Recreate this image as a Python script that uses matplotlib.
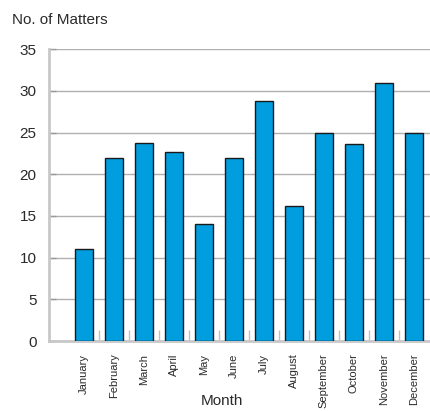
import matplotlib
matplotlib.use('Agg')
import matplotlib.pyplot as plt
import numpy as np

months = ['January', 'February', 'March', 'April', 'May', 'June', 'July',
          'August', 'September', 'October', 'November', 'December']
matters = [11.0, 21.9, 23.7, 22.7, 14.0, 21.9, 28.8, 16.2, 25.0, 23.6, 30.9, 25.0]
y_ticks = [0, 5, 10, 15, 20, 25, 30, 35]

plt.rcParams['font.family'] = ['Liberation Sans', 'DejaVu Sans']
text_color = '#2a2a2a'

fig = plt.figure(figsize=(4.31, 4.11), dpi=100)
ax = fig.add_axes([0.1137, 0.1703, 0.8863, 0.7097])

x = np.arange(len(months))
ax.bar(x, matters, width=0.6, color='#009ddf', edgecolor='#1a1a1a',
       linewidth=1.0, zorder=3)

ax.set_xlim(-1.17, 11.57)
ax.set_ylim(0, 35)
ax.set_yticks(y_ticks)
ax.set_yticklabels([str(t) for t in y_ticks], fontsize=11, color=text_color)
ax.tick_params(axis='y', direction='in', length=5, width=1, color='#999999', pad=9)

ax.set_xticks(x)
ax.set_xticklabels(months, rotation=90, fontsize=8, color=text_color)
ax.tick_params(axis='x', which='major', length=0, pad=9)
ax.set_xticks(x[:-1] + 0.5, minor=True)
ax.tick_params(axis='x', which='minor', direction='in', length=8, width=1, color='#c0c0c0')

ax.grid(axis='y', color='#b0b0b0', linewidth=1.0, zorder=0)
for side in ['top', 'right']:
    ax.spines[side].set_visible(False)
for side in ['left', 'bottom']:
    ax.spines[side].set_color('#c8c8c8')
    ax.spines[side].set_linewidth(2)

fig.text(12 / 431, 1 - 20 / 411, 'No. of Matters', fontsize=11, color=text_color,
         ha='left', va='center')
fig.text(222 / 431, 1 - 401 / 411, 'Month', fontsize=11, color=text_color,
         ha='center', va='center')

fig.savefig('out.png', dpi=100)
